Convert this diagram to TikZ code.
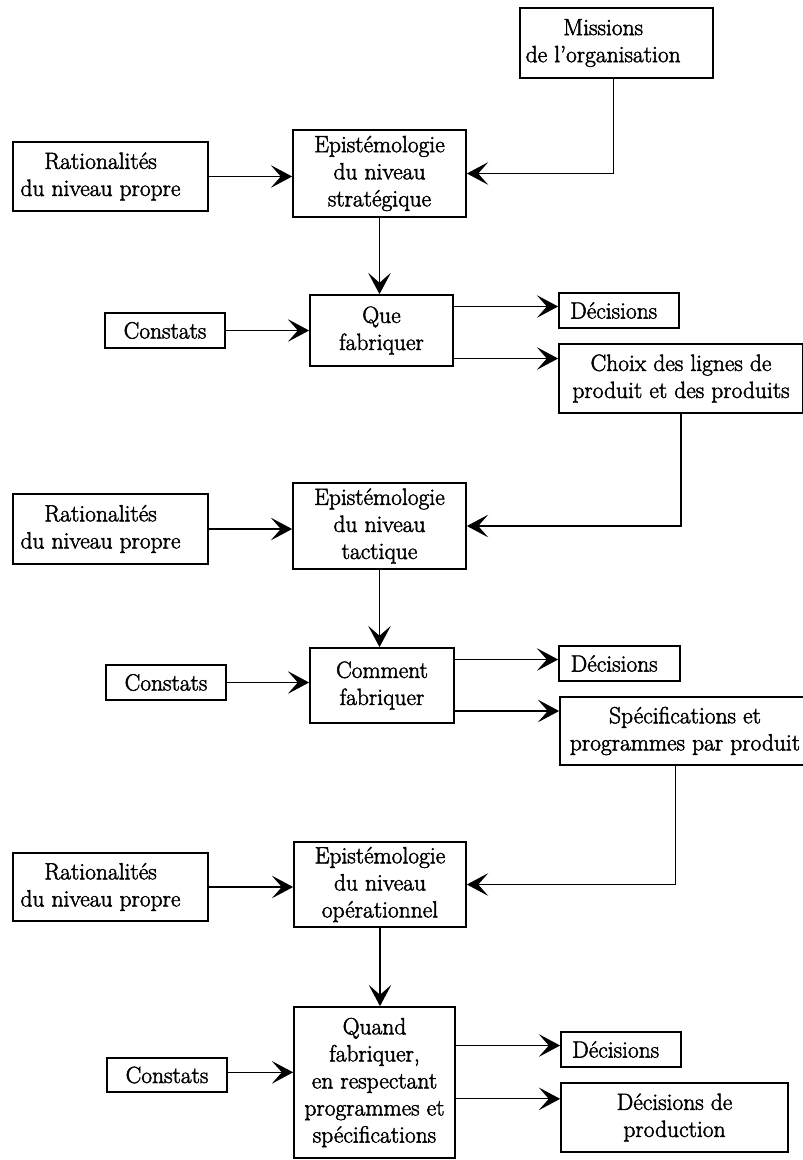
\documentclass[tikz,border=0pt]{standalone}
\usepackage{fontspec}
\setmainfont{Latin Modern Roman}[FakeBold=2]
\usetikzlibrary{arrows.meta}
\begin{document}
\begin{tikzpicture}[x=0.75pt,y=-0.75pt,
  box/.style={draw,line width=1.3pt,inner sep=0pt,align=center,
    font=\fontsize{17.6}{20.3}\selectfont},
  arr/.style={line width=0.8pt,-{Stealth[length=16pt,width=17pt,inset=7.5pt]}}]
\useasboundingbox (0,0) rectangle (803,1160);
% nodes
\node[box,minimum width=193*0.75pt,minimum height=70*0.75pt] (mis) at (616.5,43) {Missions\hspace*{20pt}\\de l'organisation\hspace*{20pt}};
\node[box,minimum width=195*0.75pt,minimum height=69*0.75pt] (rat1) at (110.5,176.5) {Rationalités\hspace*{15pt}\\du niveau propre\hspace*{15pt}};
\node[box,minimum width=173*0.75pt,minimum height=87*0.75pt] (es) at (379.5,173.5) {Epistémologie\\du niveau\\stratégique};
\node[box,minimum width=143*0.75pt,minimum height=71*0.75pt] (que) at (381.5,330.5) {Que\\fabriquer};
\node[box,minimum width=120*0.75pt,minimum height=35*0.75pt] (con1) at (165,330.5) {Constats};
\node[box,minimum width=120*0.75pt,minimum height=35*0.75pt] (dec1) at (619,310.5) {Décisions\hspace*{8pt}};
\node[box,minimum width=244*0.75pt,minimum height=69*0.75pt] (choix) at (681,378.5) {Choix des lignes de\\produit et des produits};
\node[box,minimum width=195*0.75pt,minimum height=70*0.75pt] (rat2) at (110.5,529) {Rationalités\hspace*{15pt}\\du niveau propre\hspace*{15pt}};
\node[box,minimum width=173*0.75pt,minimum height=86*0.75pt] (et) at (379.5,526) {Epistémologie\\du niveau\\tactique};
\node[box,minimum width=144*0.75pt,minimum height=75*0.75pt] (com) at (382,685.5) {Comment\\fabriquer};
\node[box,minimum width=120*0.75pt,minimum height=35*0.75pt] (con2) at (166,682.5) {Constats};
\node[box,minimum width=121*0.75pt,minimum height=35*0.75pt] (dec2) at (619.5,663.5) {Décisions\hspace*{8pt}};
\node[box,minimum width=250*0.75pt,minimum height=68*0.75pt] (spec) at (685,731) {Spécifications et\\programmes par produit};
\node[box,minimum width=195*0.75pt,minimum height=68*0.75pt] (rat3) at (110.5,887) {Rationalités\hspace*{15pt}\\du niveau propre\hspace*{15pt}};
\node[box,minimum width=172*0.75pt,minimum height=85*0.75pt] (eo) at (380,884.5) {Epistémologie\\du niveau\\opérationnel};
\node[box,minimum width=161*0.75pt,minimum height=151*0.75pt] (quand) at (374.5,1082.5) {Quand\\fabriquer,\\en respectant\\programmes et\\spécifications};
\node[box,minimum width=120*0.75pt,minimum height=34*0.75pt] (con3) at (167,1075) {Constats};
\node[box,minimum width=120*0.75pt,minimum height=35*0.75pt] (dec3) at (621,1049.5) {Décisions\hspace*{8pt}};
\node[box,minimum width=227*0.75pt,minimum height=69*0.75pt] (dp) at (674.5,1117.5) {Décisions de\\production};
% connectors level 1
\draw[arr] (rat1.east) -- (rat1.east -| es.west);
\draw[arr] ([xshift=-2pt]mis.south) |- (es.east);
\draw[arr] (es.south) -- (es.south |- que.north);
\draw[arr] (con1.east) -- (con1.east -| que.west);
\draw[arr] ([yshift=3pt]que.east |- dec1.west) -- ([yshift=3pt]dec1.west);
\draw[arr] ([yshift=15pt]que.east |- choix.west) -- ([yshift=15pt]choix.west);
% level 2
\draw[arr] (choix.south) |- (et.east);
\draw[arr] (rat2.east) -- (rat2.east -| et.west);
\draw[arr] (et.south) -- (et.south |- com.north);
\draw[arr] (con2.east) -- (con2.east -| com.west);
\draw[arr] ([yshift=3pt]com.east |- dec2.west) -- ([yshift=3pt]dec2.west);
\draw[arr] ([yshift=15pt]com.east |- spec.west) -- ([yshift=15pt]spec.west);
% level 3
\draw[arr] ([xshift=-7pt]spec.south) |- (eo.east);
\draw[arr] (rat3.east) -- (rat3.east -| eo.west);
\draw[arr] (eo.south) -- (eo.south |- quand.north);
\draw[arr] ([yshift=2pt]con3.east) -- ([yshift=2pt]con3.east -| quand.west);
\draw[arr] ([yshift=3pt]quand.east |- dec3.west) -- ([yshift=3pt]dec3.west);
\draw[arr] ([yshift=14pt]quand.east |- dp.west) -- ([yshift=14pt]dp.west);
\end{tikzpicture}
\end{document}
